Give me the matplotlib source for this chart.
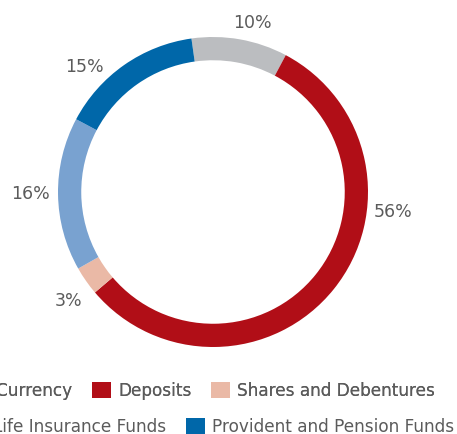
import matplotlib.pyplot as plt
import numpy as np

labels = ['Currency', 'Deposits', 'Shares and Debentures',
          'Life Insurance Funds', 'Provident and Pension Funds']
values = [10, 56, 3, 16, 15]
colors = ['#BBBDC0', '#B10E17', '#EAB9A6', '#79A2D0', '#0067A9']

# where the percentage labels sit (angle in degrees, radius in pie units)
lab_ang = [77, -6.3, -142.9, 180.6, 135.9]
lab_rad = [1.12, 1.17, 1.165, 1.18, 1.158]

plt.rcParams['font.family'] = 'DejaVu Sans'
txt = '#5b5b5b'

W, H = 457, 434
fig = plt.figure(figsize=(W / 100, H / 100), dpi=100)
cx, cy, r = 213, 192, 155
ax = fig.add_axes([(cx - r) / W, (H - cy - r) / H, 2 * r / W, 2 * r / H])

wedges, _ = ax.pie(values, colors=colors, startangle=98, counterclock=False,
                   radius=1, wedgeprops=dict(width=0.15, linewidth=0))
ax.set_xlim(-1, 1)
ax.set_ylim(-1, 1)
ax.set_aspect('equal')
ax.axis('off')

for v, a, rr in zip(values, lab_ang, lab_rad):
    t = np.deg2rad(a)
    ax.text(rr * np.cos(t), rr * np.sin(t), f'{v}%', ha='center', va='center',
            fontsize=12.5, color=txt, clip_on=False)

kw = dict(frameon=False, fontsize=12.2, handlelength=1.1, handleheight=1.1,
          handletextpad=0.45, columnspacing=1.15, borderpad=0, borderaxespad=0,
          labelcolor=txt)
leg1 = fig.legend(wedges[:3], labels[:3], ncol=3, loc='center left',
                  bbox_to_anchor=(-30 / W, 1 - 391 / H), **kw)
fig.add_artist(leg1)
fig.legend(wedges[3:], labels[3:], ncol=2, loc='center left',
           bbox_to_anchor=(-33 / W, 1 - 427 / H), **kw)

fig.savefig('out.png', dpi=100)
